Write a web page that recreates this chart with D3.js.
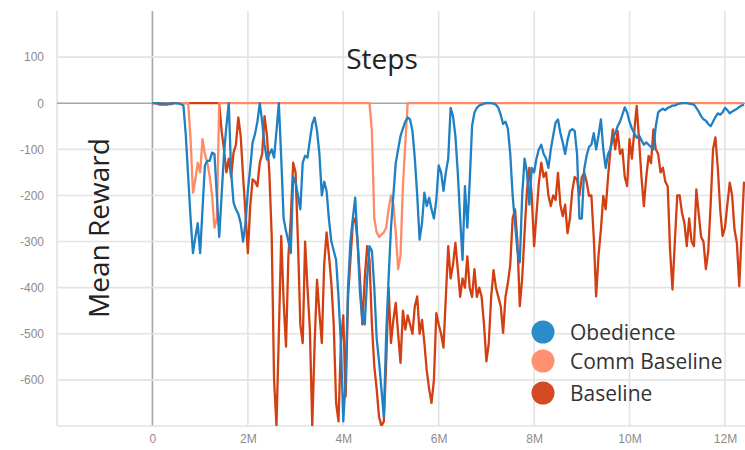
<!DOCTYPE html>
<html>
<head>
<meta charset="utf-8">
<script src="https://cdn.jsdelivr.net/npm/d3@7"></script>
<style>
  body { margin: 0; background: #fff; }
  svg { display: block; font-family: "Open Sans", sans-serif; }
  .tick text { fill: #8c8c8c; font-size: 12px; }
</style>
</head>
<body>
<svg id="chart" width="745" height="450"></svg>
<script>
'use strict';

// steps, in millions (one row = 0.5M)
const steps = [
  0, 0.05, 0.1, 0.15, 0.2, 0.25, 0.3, 0.35, 0.4, 0.45,
  0.5, 0.55, 0.6, 0.65, 0.7, 0.75, 0.8, 0.85, 0.9, 0.95,
  1, 1.05, 1.1, 1.15, 1.2, 1.25, 1.3, 1.35, 1.4, 1.45,
  1.5, 1.55, 1.6, 1.65, 1.7, 1.75, 1.8, 1.85, 1.9, 1.95,
  2, 2.05, 2.1, 2.15, 2.2, 2.25, 2.3, 2.35, 2.4, 2.45,
  2.5, 2.55, 2.6, 2.65, 2.7, 2.75, 2.8, 2.85, 2.9, 2.95,
  3, 3.05, 3.1, 3.15, 3.2, 3.25, 3.3, 3.35, 3.4, 3.45,
  3.5, 3.55, 3.6, 3.65, 3.7, 3.75, 3.8, 3.85, 3.9, 3.95,
  4, 4.05, 4.1, 4.15, 4.2, 4.25, 4.3, 4.35, 4.4, 4.45,
  4.5, 4.55, 4.6, 4.65, 4.7, 4.75, 4.8, 4.85, 4.9, 4.95,
  5, 5.05, 5.1, 5.15, 5.2, 5.25, 5.3, 5.35, 5.4, 5.45,
  5.5, 5.55, 5.6, 5.65, 5.7, 5.75, 5.8, 5.85, 5.9, 5.95,
  6, 6.05, 6.1, 6.15, 6.2, 6.25, 6.3, 6.35, 6.4, 6.45,
  6.5, 6.55, 6.6, 6.65, 6.7, 6.75, 6.8, 6.85, 6.9, 6.95,
  7, 7.05, 7.1, 7.15, 7.2, 7.25, 7.3, 7.35, 7.4, 7.45,
  7.5, 7.55, 7.6, 7.65, 7.7, 7.75, 7.8, 7.85, 7.9, 7.95,
  8, 8.05, 8.1, 8.15, 8.2, 8.25, 8.3, 8.35, 8.4, 8.45,
  8.5, 8.55, 8.6, 8.65, 8.7, 8.75, 8.8, 8.85, 8.9, 8.95,
  9, 9.05, 9.1, 9.15, 9.2, 9.25, 9.3, 9.35, 9.4, 9.45,
  9.5, 9.55, 9.6, 9.65, 9.7, 9.75, 9.8, 9.85, 9.9, 9.95,
  10, 10.05, 10.1, 10.15, 10.2, 10.25, 10.3, 10.35, 10.4, 10.45,
  10.5, 10.55, 10.6, 10.65, 10.7, 10.75, 10.8, 10.85, 10.9, 10.95,
  11, 11.05, 11.1, 11.15, 11.2, 11.25, 11.3, 11.35, 11.4, 11.45,
  11.5, 11.55, 11.6, 11.65, 11.7, 11.75, 11.8, 11.85, 11.9, 11.95,
  12, 12.05, 12.1, 12.15, 12.2, 12.25, 12.3, 12.35, 12.4
];

const obedience = [
  0, 0, 0, 0, -1, -1, -1, -1, 0, 0,
  0, -1, -2, -5, -70, -160, -250, -325, -290, -260,
  -325, -230, -135, -125, -125, -107, -110, -200, -290, -200,
  -110, -50, 0, -150, -215, -230, -240, -260, -300, -260,
  -190, -140, -85, -67, -40, 0, -40, -90, -122, -110,
  -100, -118, -60, 0, -120, -250, -277, -300, -325, -160,
  -172, -200, -230, -129, -114, -118, -80, -45, -31, -60,
  -110, -200, -170, -190, -252, -300, -320, -340, -420, -520,
  -690, -600, -400, -300, -250, -205, -300, -410, -470, -480,
  -380, -310, -320, -400, -510, -560, -620, -680, -500, -380,
  -270, -200, -130, -100, -71, -55, -40, -31, -35, -60,
  -120, -200, -296, -260, -194, -223, -205, -230, -250, -210,
  -135, -150, -190, -150, -120, -10, -28, -71, -150, -250,
  -340, -180, -270, -170, -49, -20, -10, -5, -3, -1,
  0, 0, 0, -1, -3, -10, -25, -45, -40, -55,
  -110, -200, -260, -320, -345, -200, -120, -150, -220, -140,
  -150, -120, -100, -90, -110, -120, -140, -100, -70, -42,
  -35, -64, -85, -110, -80, -60, -56, -60, -110, -250,
  -250, -143, -114, -95, -90, -65, -100, -70, -35, -100,
  -140, -110, -100, -75, -65, -50, -40, -25, -9, -20,
  -40, -55, -65, -75, -70, -80, -90, -85, -90, -95,
  -100, -50, -20, -15, -12, -15, -10, -8, -5, -5,
  -2, -1, 0, 0, 0, -1, -2, -3, -10, -18,
  -28, -35, -38, -45, -50, -40, -30, -22, -25, -20,
  -10, -15, -22, -18, -15, -12, -8, -5, -3
];

const commBaseline = [
  0, 0, 0, 0, 0, 0, 0, 0, 0, 0,
  0, 0, 0, 0, 0, 0, -78, -194, -165, -129,
  -150, -78, -110, -129, -158, -200, -270, -250, 0, 0,
  0, 0, 0, 0, 0, 0, 0, 0, 0, 0,
  0, 0, 0, 0, 0, 0, 0, 0, 0, 0,
  0, 0, 0, 0, 0, 0, 0, 0, 0, 0,
  0, 0, 0, 0, 0, 0, 0, 0, 0, 0,
  0, 0, 0, 0, 0, 0, 0, 0, 0, 0,
  0, 0, 0, 0, 0, 0, 0, 0, 0, 0,
  0, 0, -60, -250, -280, -290, -285, -280, -270, -230,
  -200, -220, -280, -360, -330, -180, -88, 0, 0, 0,
  0, 0, 0, 0, 0, 0, 0, 0, 0, 0,
  0, 0, 0, 0, 0, 0, 0, 0, 0, 0,
  0, 0, 0, 0, 0, 0, 0, 0, 0, 0,
  0, 0, 0, 0, 0, 0, 0, 0, 0, 0,
  0, 0, 0, 0, 0, 0, 0, 0, 0, 0,
  0, 0, 0, 0, 0, 0, 0, 0, 0, 0,
  0, 0, 0, 0, 0, 0, 0, 0, 0, 0,
  0, 0, 0, 0, 0, 0, 0, 0, 0, 0,
  0, 0, 0, 0, 0, 0, 0, 0, 0, 0,
  0, 0, 0, 0, 0, 0, 0, 0, 0, 0,
  0, 0, 0, 0, 0, 0, 0, 0, 0, 0,
  0, 0, 0, 0, 0, 0, 0, 0, 0, 0,
  0, 0, 0, 0, 0, 0, 0, 0, 0, 0,
  0, 0, 0, 0, 0, 0, 0, 0, 0
];

const baseline = [
  0, 0, -1, -3, -3, -3, -3, -2, -2, 0,
  0, 0, 0, 0, 0, 0, 0, 0, 0, 0,
  0, 0, 0, 0, 0, 0, 0, 0, 0, -60,
  -100, -150, -120, -160, -107, -90, -31, -71, -158, -238,
  -325, -223, -165, -170, -180, -129, -110, -28, -70, -150,
  -288, -600, -700, -500, -288, -430, -528, -332, -250, -129,
  -150, -300, -480, -520, -300, -400, -490, -700, -520, -383,
  -455, -520, -350, -280, -330, -390, -480, -650, -690, -520,
  -460, -636, -420, -340, -260, -250, -300, -380, -480, -380,
  -310, -340, -480, -570, -620, -680, -700, -690, -560, -400,
  -520, -470, -433, -500, -563, -450, -491, -460, -480, -500,
  -440, -419, -500, -470, -520, -580, -620, -650, -600, -455,
  -480, -500, -530, -420, -310, -380, -350, -303, -360, -420,
  -380, -400, -332, -400, -420, -360, -420, -400, -420, -480,
  -560, -520, -420, -362, -400, -420, -440, -498, -420, -390,
  -350, -250, -230, -300, -440, -380, -280, -190, -140, -200,
  -310, -240, -172, -129, -160, -150, -200, -223, -200, -210,
  -151, -220, -245, -220, -282, -250, -190, -160, -165, -200,
  -160, -151, -170, -201, -200, -290, -419, -330, -274, -201,
  -230, -160, -100, -57, -100, -60, -110, -100, -160, -180,
  -78, -120, -60, -6, -80, -160, -223, -160, -114, -130,
  -57, -100, -110, -150, -140, -170, -180, -320, -404, -300,
  -200, -200, -238, -260, -310, -250, -300, -310, -187, -240,
  -290, -300, -360, -320, -220, -100, -74, -140, -230, -288,
  -270, -220, -172, -200, -274, -303, -397, -280, -170
];

const seriesNames = ['Obedience', 'Comm Baseline', 'Baseline'];
const seriesColors = ['#1f80c3', '#ff8a66', '#d23f12'];
const legendColors = ['#2a8dca', '#ff9070', '#d44a24'];
const xTicks = [0, 2, 4, 6, 8, 10, 12];
const yTicks = [100, 0, -100, -200, -300, -400, -500, -600];

const plotLeft = 57, plotRight = 745, plotTop = 11, plotBottom = 426;

const svg = d3.select('#chart');

const x = d3.scaleLinear().domain([-2, 12.42]).range([plotLeft, plotRight]);
const y = d3.scaleLinear().domain([-700, 200]).range([plotBottom, plotTop]);

svg.append('defs').append('clipPath')
    .attr('id', 'plot-clip')
  .append('rect')
    .attr('x', plotLeft)
    .attr('y', plotTop)
    .attr('width', plotRight - plotLeft)
    .attr('height', plotBottom - plotTop);

// grid
const grid = svg.append('g');
grid.selectAll('line.vgrid')
    .data([-2].concat(xTicks))
  .enter().append('line')
    .attr('x1', d => x(d)).attr('x2', d => x(d))
    .attr('y1', plotTop).attr('y2', plotBottom)
    .attr('stroke', d => d === 0 ? '#a6a6a6' : '#e3e3e3')
    .attr('stroke-width', 1.6);

grid.selectAll('line.hgrid')
    .data(yTicks.concat([-700]))
  .enter().append('line')
    .attr('x1', plotLeft).attr('x2', plotRight)
    .attr('y1', d => y(d)).attr('y2', d => y(d))
    .attr('stroke', d => d === 0 ? '#a6a6a6' : '#e3e3e3')
    .attr('stroke-width', 1.6);

// axes (labels only)
svg.append('g')
    .attr('transform', 'translate(0,' + plotBottom + ')')
    .call(d3.axisBottom(x)
      .tickValues(xTicks)
      .tickSize(0)
      .tickPadding(8)
      .tickFormat(d => d === 0 ? '0' : d + 'M'))
    .call(g => g.select('.domain').remove());

svg.append('g')
    .attr('transform', 'translate(' + plotLeft + ',0)')
    .call(d3.axisLeft(y)
      .tickValues(yTicks)
      .tickSize(0)
      .tickPadding(13)
      .tickFormat(d => String(d)))
    .call(g => g.select('.domain').remove());

// lines
const line = d3.line()
    .x((d, i) => x(steps[i]))
    .y(d => y(d));

const plot = svg.append('g').attr('clip-path', 'url(#plot-clip)');
const drawOrder = [
  { values: baseline, color: seriesColors[2] },
  { values: commBaseline, color: seriesColors[1] },
  { values: obedience, color: seriesColors[0] }
];

plot.selectAll('path.series')
    .data(drawOrder)
  .enter().append('path')
    .attr('class', 'series')
    .attr('d', d => line(d.values))
    .attr('fill', 'none')
    .attr('stroke', d => d.color)
    .attr('stroke-width', 2.3)
    .attr('stroke-linejoin', 'round');

// titles
svg.append('text')
    .attr('x', 382)
    .attr('y', 69)
    .attr('text-anchor', 'middle')
    .attr('fill', '#222')
    .style('font-size', '28px')
    .text('Steps');

svg.append('text')
    .attr('transform', 'translate(109,228) rotate(-90)')
    .attr('text-anchor', 'middle')
    .attr('fill', '#222')
    .style('font-size', '28px')
    .text('Mean Reward');

// legend
const legend = svg.append('g');
const legendY = [332, 361, 393];
legend.selectAll('circle')
    .data(seriesNames)
  .enter().append('circle')
    .attr('cx', 543)
    .attr('cy', (d, i) => legendY[i])
    .attr('r', 11.5)
    .attr('fill', (d, i) => legendColors[i]);

legend.selectAll('text')
    .data(seriesNames)
  .enter().append('text')
    .attr('x', 570)
    .attr('y', (d, i) => legendY[i])
    .attr('dy', '0.36em')
    .attr('fill', '#333')
    .style('font-size', '21px')
    .text(d => d);
</script>
</body>
</html>
